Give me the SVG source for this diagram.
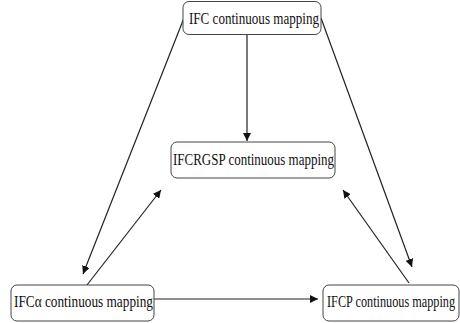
<svg xmlns="http://www.w3.org/2000/svg" width="460" height="323" viewBox="0 0 460 323">
<style>
.box{fill:#fff;stroke:#444;stroke-width:1}
.t{font-family:"Liberation Serif","Times New Roman",serif;font-size:17.5px;fill:#111}
.c{stroke:#222;stroke-width:1.2;fill:none;marker-end:url(#ah)}
</style>
<defs>
<marker id="ah" viewBox="0 0 10 10" refX="10" refY="5" markerWidth="8" markerHeight="8" markerUnits="userSpaceOnUse" orient="auto">
<path d="M0,0 L10,5 L0,10 z" fill="#111"/>
</marker>
</defs>
<rect width="460" height="323" fill="#fff"/>
<g id="connectors">
<line class="c" x1="247" y1="35" x2="247" y2="141"/>
<line class="c" x1="184" y1="18" x2="83" y2="274"/>
<line class="c" x1="87" y1="285" x2="161" y2="190"/>
<line class="c" x1="321" y1="18" x2="412" y2="267"/>
<line class="c" x1="409" y1="283" x2="343" y2="190"/>
<line class="c" x1="154" y1="299" x2="318" y2="299"/>
</g>
<g id="n1">
<rect class="box" x="183" y="1.5" width="138" height="33" rx="6"/>
<text class="t" x="189" y="24" textLength="130" lengthAdjust="spacingAndGlyphs">IFC continuous mapping</text>
</g>
<g id="n2">
<rect class="box" x="171" y="142" width="164" height="36" rx="6"/>
<text class="t" x="173" y="165" textLength="161" lengthAdjust="spacingAndGlyphs">IFCRGSP continuous mapping</text>
</g>
<g id="n3">
<rect class="box" x="11" y="285" width="143" height="36" rx="6"/>
<text class="t" x="14" y="307" textLength="139" lengthAdjust="spacingAndGlyphs">IFCα continuous mapping</text>
</g>
<g id="n4">
<rect class="box" x="323" y="285" width="136" height="36" rx="6"/>
<text class="t" transform="translate(327,307) scale(0.7,1)">IFCP continuous mapping</text>
</g>
</svg>
